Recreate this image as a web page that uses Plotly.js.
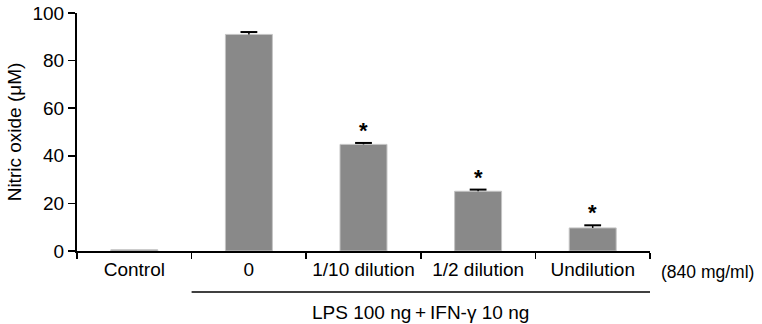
<!DOCTYPE html>
<html>
<head>
<meta charset="utf-8">
<script src="https://cdn.plot.ly/plotly-3.0.1.min.js"></script>
<style>html,body{margin:0;padding:0;background:#fff;}#chart{width:762px;height:324px;}</style>
</head>
<body>
<div id="chart"></div>
<script>
const categories = ["Control", "0", "1/10 dilution", "1/2 dilution", "Undilution"];
const noValues = [0.5, 91.0, 44.8, 25.1, 9.7];
const noErrors = [0, 1.0, 0.6, 0.7, 1.1];
const significant = [false, false, true, true, true];
const unitLabel = "(840 mg/ml)";
const groupLabel = "LPS 100 ng\u2009+\u2009IFN-\u03b3 10 ng";
const yTitle = "Nitric oxide (\u03bcM)";

const FONT = "Arial, 'Liberation Sans', Helvetica, sans-serif";
const FS = 19;

const barTrace = {
  type: "bar",
  x: categories,
  y: noValues,
  width: 0.41,
  marker: {color: "#898989", line: {color: "#c4c4c4", width: 1}},
  error_y: {
    type: "data",
    array: noErrors.map((e, i) => i === 0 ? null : e),
    arrayminus: noErrors.map(() => 0),
    symmetric: false,
    color: "#000",
    thickness: 1.5,
    width: 0,
    visible: true
  },
  hoverinfo: "none"
};

// caps of the error bars (top only)
const capX = [], capY = [];
categories.forEach((c, i) => { if (noErrors[i] > 0) { capX.push(c); capY.push(noValues[i] + noErrors[i]); } });
const capTrace = {
  type: "scatter", mode: "markers", x: capX, y: capY,
  marker: {symbol: "line-ew", size: 12, line: {color: "#000", width: 2}},
  hoverinfo: "none", cliponaxis: false
};

const annotations = [];
categories.forEach((c, i) => {
  if (significant[i]) {
    annotations.push({
      x: c, y: noValues[i] + noErrors[i], xref: "x", yref: "y",
      text: "<b>*</b>", showarrow: false, yanchor: "bottom", yshift: -2,
      font: {family: FONT, size: 22, color: "#000"}
    });
  }
});
annotations.push({
  x: 1.016, y: -0.09, xref: "paper", yref: "paper", text: unitLabel,
  showarrow: false, xanchor: "left", yanchor: "middle",
  font: {family: FONT, size: 17.5, color: "#000"}
});
annotations.push({
  x: 2.5, y: -0.257, xref: "x", yref: "paper", text: groupLabel,
  showarrow: false, xanchor: "center", yanchor: "middle",
  font: {family: FONT, size: FS, color: "#000"}
});

const layout = {
  width: 762, height: 324,
  margin: {l: 77, r: 112, t: 13, b: 73},
  paper_bgcolor: "#fff", plot_bgcolor: "#fff",
  showlegend: false,
  font: {family: FONT, size: FS, color: "#000"},
  xaxis: {
    type: "category",
    range: [-0.5, 4.5],
    showline: true, linecolor: "#000", linewidth: 2,
    ticks: "outside", tickson: "boundaries", ticklen: 6, tickwidth: 1.5, tickcolor: "#000",
    showgrid: false, zeroline: false,
    tickfont: {family: FONT, size: FS, color: "#000"}
  },
  yaxis: {
    range: [0, 100], dtick: 20,
    showline: true, linecolor: "#000", linewidth: 2,
    ticks: "outside", ticklen: 7, tickwidth: 1.5, tickcolor: "#000",
    showgrid: false, zeroline: false,
    tickfont: {family: FONT, size: FS, color: "#000"},
    title: {text: yTitle, font: {family: FONT, size: FS, color: "#000"}, standoff: 6}
  },
  shapes: [{
    type: "line", xref: "x", yref: "paper",
    x0: 0.5, x1: 4.5, y0: -0.172, y1: -0.172,
    line: {color: "#000", width: 1.5}
  }],
  annotations: annotations
};

Plotly.newPlot("chart", [barTrace, capTrace], layout, {staticPlot: true, displayModeBar: false});
</script>
</body>
</html>
